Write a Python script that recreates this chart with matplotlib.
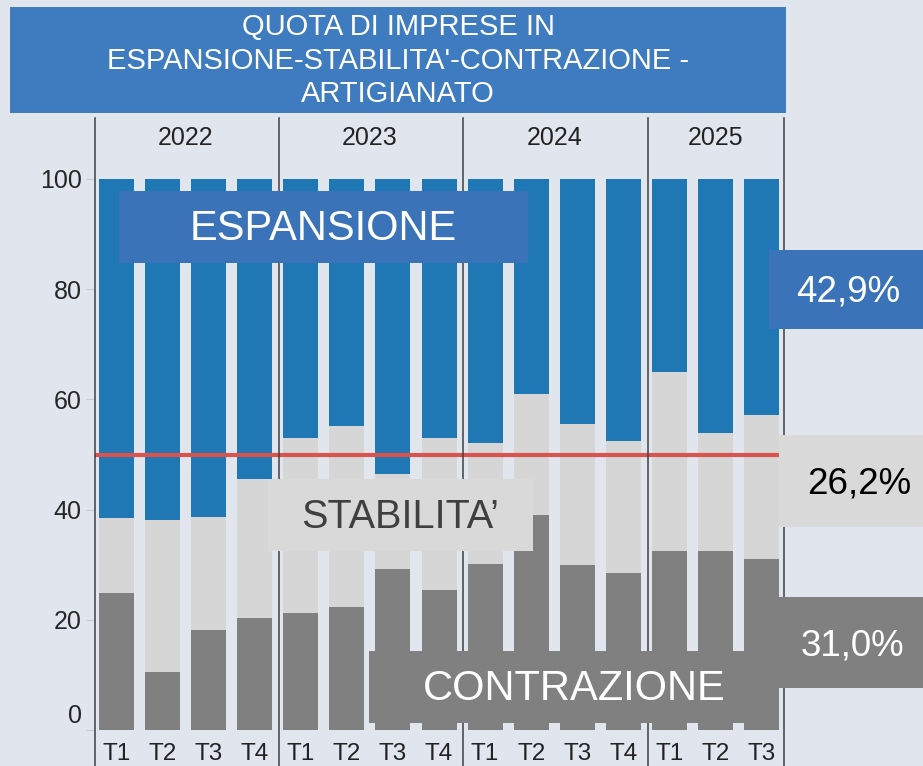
import matplotlib
matplotlib.use("Agg")
import matplotlib.pyplot as plt
from matplotlib.patches import Rectangle
from matplotlib.transforms import ScaledTranslation

plt.rcParams['font.family'] = ['Liberation Sans', 'DejaVu Sans']

# Data (percent of firms)
years = ['2022', '2023', '2024', '2025']
quarters = ['T1', 'T2', 'T3', 'T4', 'T1', 'T2', 'T3', 'T4',
            'T1', 'T2', 'T3', 'T4', 'T1', 'T2', 'T3']
contrazione = [24.8, 10.5, 18.1, 20.4, 21.3, 22.4, 29.2, 25.4,
               30.2, 39.0, 30.0, 28.5, 32.4, 32.4, 31.0]
stabilita = [13.7, 27.7, 20.6, 25.1, 31.7, 32.7, 17.2, 27.6,
             21.9, 21.9, 25.6, 24.0, 32.6, 21.5, 26.1]
espansione = [61.5, 61.8, 61.3, 54.5, 47.0, 44.9, 53.6, 47.0,
              47.9, 39.1, 44.4, 47.5, 35.0, 46.1, 42.9]
last_labels = ['42,9%', '26,2%', '31,0%']

# Colours
bg = '#e1e6ee'
c_blue = '#1f77b4'
c_light = '#d6d6d6'
c_dark = '#808080'
c_box_blue = '#3b73b8'
c_title = '#3f7bbf'

W, H = 923, 766
fig = plt.figure(figsize=(W / 100, H / 100), dpi=100, facecolor=bg)

# axes placed in pixel terms: left 95, right 784, top 118, bottom 766
ax = fig.add_axes([95 / W, 0, (784 - 95) / W, (766 - 118) / H])
ax.set_facecolor(bg)

x = list(range(len(quarters)))
bw = 0.76
ax.bar(x, contrazione, width=bw, color=c_dark, zorder=2)
ax.bar(x, stabilita, width=bw, bottom=contrazione, color=c_light, zorder=2)
bottom2 = [a + b for a, b in zip(contrazione, stabilita)]
ax.bar(x, espansione, width=bw, bottom=bottom2, color=c_blue, zorder=2)

ax.set_xlim(-0.47, 14.49)
ax.set_ylim(-6.53, 111.07)

# 50% reference line
ax.hlines(50, -0.47, 14.38, color='#d9534f', lw=3, zorder=3)

# year separators
for xs in [-0.47, 3.53, 7.53, 11.53, 14.49]:
    ax.axvline(xs, color='#404040', lw=1.1, zorder=4, clip_on=False)

# year labels on top, quarter labels at bottom
for i, yr in enumerate(years):
    xc = 1.5 + 4 * i if i < 3 else 13
    ax.text(xc, 106.2, yr, ha='center', va='baseline', fontsize=18, color='#222222')
for i, q in enumerate(quarters):
    ax.text(i, -5.45, q, ha='center', va='baseline', fontsize=17.5, color='#222222')

ax.set_xticks([])
ax.set_yticks([0, 20, 40, 60, 80, 100])
ax.tick_params(axis='y', length=6.5, width=0.8, color='#c8ccd4',
               labelsize=18, labelcolor='#262626', pad=3)
for s in ax.spines.values():
    s.set_visible(False)
# the "0" label sits a little higher in the reference
lab0 = ax.yaxis.get_major_ticks()[0].label1
lab0.set_transform(lab0.get_transform() + ScaledTranslation(0, 0.17, fig.dpi_scale_trans))


def box(x0, y0, x1, y1, color, z=5):
    r = Rectangle((x0 / W, 1 - y1 / H), (x1 - x0) / W, (y1 - y0) / H,
                  transform=fig.transFigure, facecolor=color, edgecolor='none', zorder=z)
    fig.add_artist(r)


def label(xc, yc, s, size, color, ls=1.2):
    fig.text(xc / W, 1 - yc / H, s, ha='center', va='center', fontsize=size,
             color=color, zorder=6, linespacing=ls)


# title box
box(10, 7, 786, 113, c_title)
label(398, 61, "QUOTA DI IMPRESE IN\nESPANSIONE-STABILITA'-CONTRAZIONE -\nARTIGIANATO",
      21, 'white', ls=1.25)

# category boxes
box(119, 191, 528, 263, c_box_blue)
label(323.5, 229, 'ESPANSIONE', 30, 'white')
box(268, 479, 533, 551, '#d9d9d9')
label(400, 517, 'STABILITA\u2019', 28.5, '#404040')
box(369, 651, 779, 723, c_dark)
label(574, 689, 'CONTRAZIONE', 30, 'white')

# latest values boxes
box(769, 250, 923, 329, c_box_blue)
label(848, 292, last_labels[0], 26.5, 'white')
box(779, 435, 923, 527, '#d9d9d9')
label(859, 484, last_labels[1], 26.5, 'black')
box(779, 597, 923, 688, c_dark)
label(852, 646, last_labels[2], 26.5, 'white')

fig.savefig('out.png', dpi=100, facecolor=bg)
